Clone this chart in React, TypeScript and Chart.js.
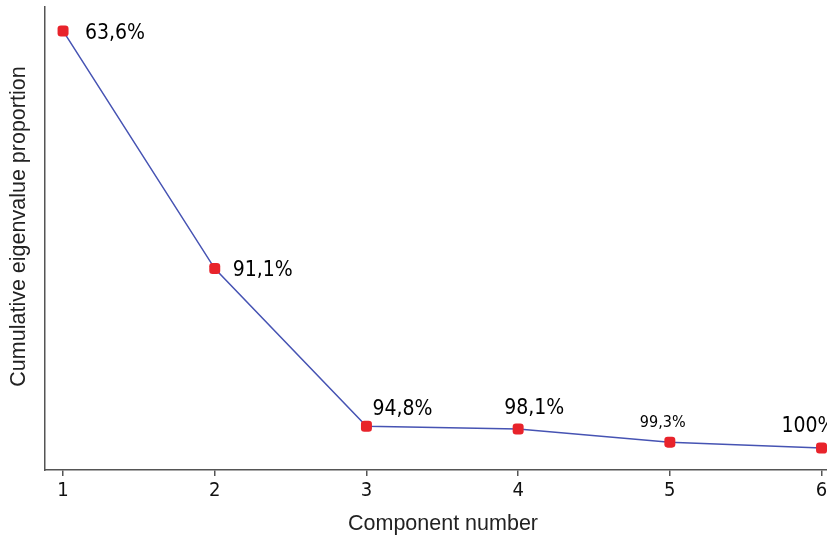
import React, { useEffect, useRef } from "react";
import { Chart, registerables } from "chart.js";

Chart.register(...registerables);

const components = [1, 2, 3, 4, 5, 6];
const proportions = [63.6, 27.6, 3.7, 3.3, 1.3, 0.4];
const cumulativeLabels = ["63,6%", "91,1%", "94,8%", "98,1%", "99,3%", "100%"];
const xTicks = [1, 2, 3, 4, 5, 6];
const xTitle = "Component number";
const yTitle = "Cumulative eigenvalue proportion";

// label layout (offsets from the point, in px) and font sizes
const labelDx = [22, 18, 6, -14, -30, -40];
const labelDy = [3, 2, -17, -20, -19, -22];
const labelSize = [21, 21, 21, 21, 16, 21];

const LABEL_FONT = "'DejaVu Sans Condensed', 'DejaVu Sans', Tahoma, sans-serif";
const TITLE_FONT = "'Liberation Sans', Arial, sans-serif";

const pointLabelsPlugin = {
  id: "pointLabels",
  afterDatasetsDraw(chart: any) {
    const ctx = chart.ctx;
    const meta = chart.getDatasetMeta(0);
    ctx.save();
    ctx.fillStyle = "#000";
    ctx.textAlign = "left";
    ctx.textBaseline = "middle";
    meta.data.forEach((el: any, i: number) => {
      ctx.font = `${labelSize[i]}px ${LABEL_FONT}`;
      ctx.fillText(cumulativeLabels[i], el.x + labelDx[i], el.y + labelDy[i]);
    });
    ctx.restore();
  },
};

const axisTitlesPlugin = {
  id: "axisTitles",
  afterDraw(chart: any) {
    const ctx = chart.ctx;
    const { chartArea } = chart;
    ctx.save();
    ctx.fillStyle = "#222";
    ctx.font = `21.5px ${TITLE_FONT}`;
    ctx.textAlign = "center";
    ctx.textBaseline = "middle";
    ctx.fillText(xTitle, (chartArea.left + chartArea.right) / 2 + 7, chart.height - 14);
    ctx.translate(19, (chartArea.top + chartArea.bottom) / 2 - 12);
    ctx.rotate(-Math.PI / 2);
    ctx.fillText(yTitle, 0, 0);
    ctx.restore();
  },
};

export default function App() {
  const ref = useRef<HTMLCanvasElement | null>(null);
  useEffect(() => {
    if (!ref.current) return;
    const chart = new Chart(ref.current, {
      type: "line",
      data: {
        datasets: [
          {
            data: components.map((c, i) => ({ x: c, y: proportions[i] })),
            borderColor: "#4653b3",
            borderWidth: 1.5,
            pointStyle: "rectRounded",
            pointRadius: 6.4,
            pointBackgroundColor: "#e8232b",
            pointBorderColor: "#e8232b",
            pointBorderWidth: 0,
            clip: false as any,
            tension: 0,
          },
        ],
      },
      options: {
        animation: false,
        responsive: false,
        layout: { autoPadding: false, padding: { top: 7, left: 0, right: 0, bottom: 0 } },
        plugins: {
          legend: { display: false },
          tooltip: { enabled: false },
        },
        scales: {
          x: {
            type: "linear",
            min: 0.881,
            max: 6.036,
            afterBuildTicks: (scale: any) => {
              scale.ticks = xTicks.map((v) => ({ value: v }));
            },
            afterFit: (scale: any) => {
              scale.height = 68;
              scale.paddingLeft = 0;
              scale.paddingRight = 0;
            },
            grid: {
              display: true,
              drawOnChartArea: false,
              drawTicks: true,
              tickLength: 6,
              color: "#555",
              lineWidth: 1.5,
            },
            border: { display: true, color: "#555", width: 1.5 },
            ticks: {
              color: "#111",
              padding: 3,
              font: { family: LABEL_FONT, size: 20 },
              callback: (v: any) => String(v),
            },
            title: { display: false },
          },
          y: {
            type: "linear",
            min: -2.92,
            max: 67.23,
            afterFit: (scale: any) => {
              scale.width = 45;
              scale.paddingTop = 0;
              scale.paddingBottom = 0;
            },
            grid: { display: false },
            border: { display: true, color: "#555", width: 1.5 },
            ticks: { display: false },
            title: { display: false },
          },
        },
      },
      plugins: [pointLabelsPlugin, axisTitlesPlugin],
    });
    return () => chart.destroy();
  }, []);
  return (
    <div style={{ position: "absolute", left: 0, top: 0, width: 827, height: 538, background: "#fff" }}>
      <canvas ref={ref} width={827} height={538} style={{ display: "block" }} />
    </div>
  );
}
